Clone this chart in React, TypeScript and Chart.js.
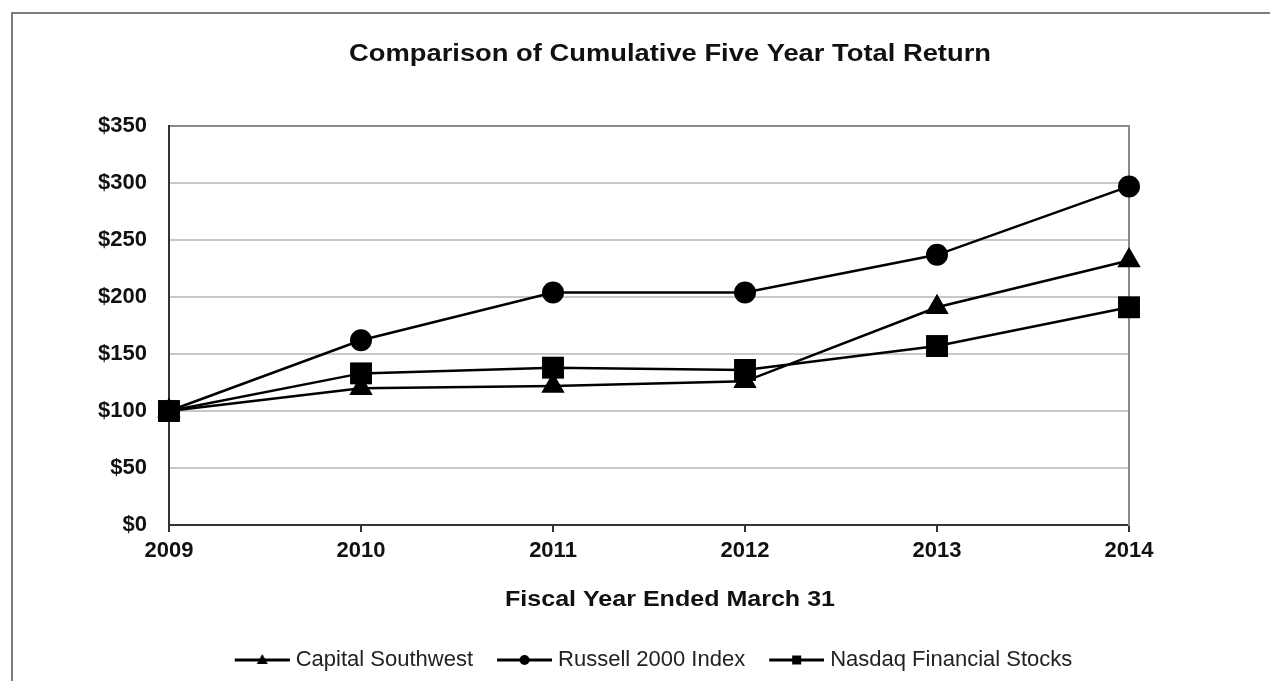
import React, { useEffect, useRef } from 'react';
import Chart from 'chart.js/auto';

// ---- data ----
const years = ['2009', '2010', '2011', '2012', '2013', '2014'];
const capitalSouthwest = [100, 120, 122, 126, 191, 232];
const russell2000 = [100, 162, 204, 204, 237, 297];
const nasdaqFinancial = [100, 133, 138, 136, 157, 191];
const seriesNames = ['Capital Southwest', 'Russell 2000 Index', 'Nasdaq Financial Stocks'];
const yMin = 0;
const yMax = 350;
const yStep = 50;
const chartTitle = 'Comparison of Cumulative Five Year Total Return';
const xAxisTitle = 'Fiscal Year Ended March 31';

const FONT = '"Liberation Sans", Arial, Helvetica, sans-serif';

function makeIcon(style: string): HTMLCanvasElement {
  const c = document.createElement('canvas');
  c.width = 74;
  c.height = 22;
  const g = c.getContext('2d')!;
  g.strokeStyle = '#000';
  g.lineWidth = 3;
  g.beginPath();
  g.moveTo(19, 11);
  g.lineTo(74, 11);
  g.stroke();
  g.fillStyle = '#000';
  const cx = 46.5;
  const cy = 11;
  g.beginPath();
  if (style === 'triangle') {
    g.moveTo(cx, cy - 6);
    g.lineTo(cx + 5.5, cy + 4);
    g.lineTo(cx - 5.5, cy + 4);
    g.closePath();
  } else if (style === 'circle') {
    g.arc(cx, cy, 5, 0, Math.PI * 2);
  } else {
    g.rect(cx - 4.5, cy - 4.5, 9, 9);
  }
  g.fill();
  return c;
}

const freeTextPlugin = {
  id: 'freeText',
  afterDraw(chart: any, _args: any, opts: any) {
    const ctx = chart.ctx;
    (opts.items || []).forEach((it: any) => {
      ctx.save();
      ctx.fillStyle = '#111';
      ctx.textAlign = 'center';
      ctx.textBaseline = 'middle';
      ctx.font = `bold ${it.size}px ${FONT}`;
      const w = ctx.measureText(it.text).width;
      const sx = it.width && w > 0 ? it.width / w : 1;
      ctx.translate(it.x, it.y);
      ctx.scale(sx, 1);
      ctx.fillText(it.text, 0, 0);
      ctx.restore();
    });
  },
};

export default function App() {
  const ref = useRef<HTMLCanvasElement | null>(null);

  useEffect(() => {
    if (!ref.current) return;
    Chart.defaults.font.family = FONT;
    const icons = [makeIcon('triangle'), makeIcon('circle'), makeIcon('rect')];
    const base = [
      { label: seriesNames[0], data: capitalSouthwest, pointStyle: 'triangle', pointRadius: 13.5, order: 1 },
      { label: seriesNames[1], data: russell2000, pointStyle: 'circle', pointRadius: 11, order: 2 },
      { label: seriesNames[2], data: nasdaqFinancial, pointStyle: 'rect', pointRadius: 15.5, order: 0 },
    ];
    const datasets = base.map((d) => ({
      ...d,
      borderColor: '#000',
      backgroundColor: '#000',
      borderWidth: 2.5,
      pointBackgroundColor: '#000',
      pointBorderColor: '#000',
      pointBorderWidth: 0,
      pointHoverRadius: d.pointRadius,
      tension: 0,
      clip: false,
    }));

    const chart = new Chart(ref.current, {
      type: 'line',
      data: { labels: years, datasets: datasets as any },
      options: {
        animation: false,
        responsive: false,
        maintainAspectRatio: false,
        events: [],
        layout: { padding: { top: 126, left: 23, right: 0, bottom: 0 } },
        plugins: {
          title: { display: false },
          tooltip: { enabled: false },
          legend: {
            display: true,
            position: 'bottom',
            align: 'center',
            labels: {
              usePointStyle: true,
              pointStyleWidth: 64,
              padding: 10,
              color: '#222',
              font: { size: 22 },
              sort: (a: any, b: any) => a.datasetIndex - b.datasetIndex,
              generateLabels: (c: any) => {
                const items = (Chart.defaults.plugins.legend.labels as any).generateLabels(c);
                return items.map((it: any) => ({ ...it, pointStyle: icons[it.datasetIndex], fontColor: '#222' }));
              },
            },
          },
          freeText: {
            items: [
              { text: chartTitle, x: 670, y: 54, size: 24, width: 642 },
              { text: xAxisTitle, x: 670, y: 600, size: 22, width: 330 },
            ],
          },
        } as any,
        scales: {
          x: {
            type: 'category',
            offset: false,
            grid: { drawOnChartArea: false, drawTicks: true, tickLength: 7, color: '#333', lineWidth: 2 },
            border: { color: '#333', width: 2 },
            ticks: { color: '#111', font: { size: 22, weight: 'bold' }, padding: 6, maxRotation: 0, autoSkip: false },
            afterFit: (s: any) => {
              s.height = 114;
            },
          },
          y: {
            min: yMin,
            max: yMax,
            ticks: {
              stepSize: yStep,
              color: '#111',
              font: { size: 22, weight: 'bold' },
              padding: 22,
              callback: (v: any) => '$' + v,
            },
            grid: {
              drawTicks: false,
              color: (ctx: any) => (ctx.tick && ctx.tick.value === yMax ? '#8a8a8a' : '#c8c8c8'),
              lineWidth: 2,
            },
            border: { color: '#333', width: 2 },
            afterFit: (s: any) => {
              s.width = 146;
            },
          },
          yRight: {
            position: 'right',
            display: true,
            grid: { drawOnChartArea: false, drawTicks: false },
            border: { color: '#8a8a8a', width: 2 },
            ticks: { display: false },
            afterFit: (s: any) => {
              s.width = 141;
            },
          },
        } as any,
      },
      plugins: [freeTextPlugin],
    });
    return () => chart.destroy();
  }, []);

  return (
    <div style={{ position: 'fixed', left: 0, top: 0, width: 1270, height: 681, background: '#fff', overflow: 'hidden' }}>
      <div
        style={{
          position: 'absolute',
          left: 11,
          top: 12,
          right: 0,
          bottom: 0,
          borderLeft: '2px solid #7d7d7d',
          borderTop: '2px solid #7d7d7d',
        }}
      />
      <canvas
        ref={ref}
        width={1270}
        height={681}
        style={{ position: 'absolute', left: 0, top: 0, width: 1270, height: 681 }}
      />
    </div>
  );
}
